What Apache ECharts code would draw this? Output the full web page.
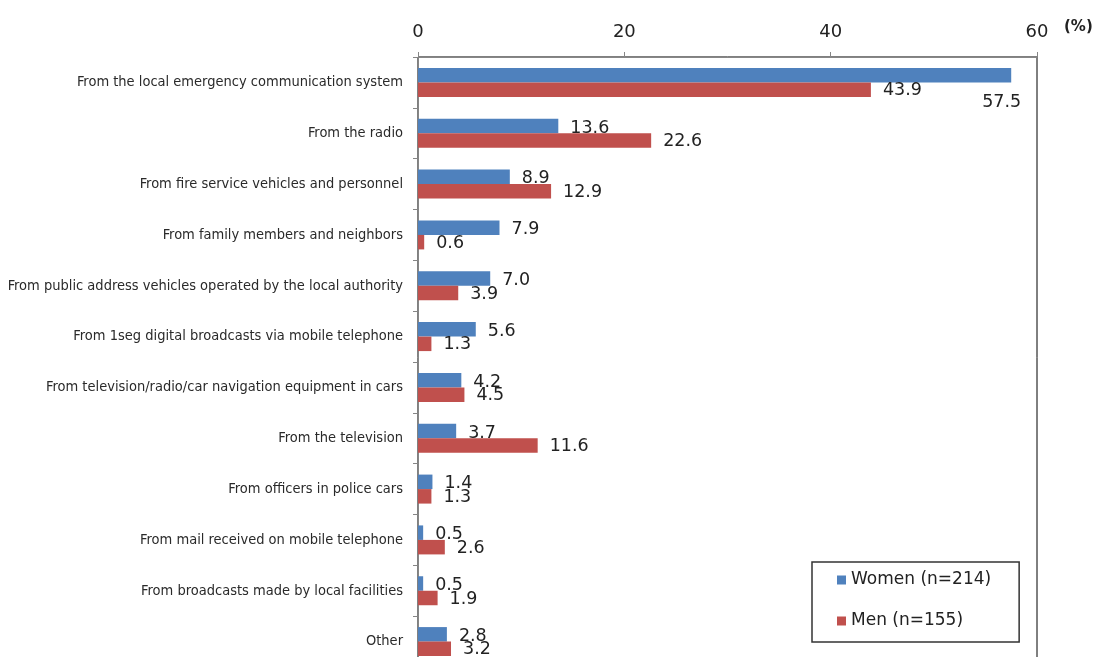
<!DOCTYPE html>
<html>
<head>
<meta charset="utf-8">
<title>Sources of evacuation information</title>
<script src="https://cdn.jsdelivr.net/npm/echarts@6/dist/echarts.min.js"></script>
<style>
  html, body { margin: 0; padding: 0; background: #fff; }
  #chart { width: 1096px; height: 657px; }
</style>
</head>
<body>
<div id="chart"></div>
<script>
// Where people first heard the information, by respondent group (%)
const categories = [
  'From the local emergency communication system',
  'From the radio',
  'From fire service vehicles and personnel',
  'From family members and neighbors',
  'From public address vehicles operated by the local authority',
  'From 1seg digital broadcasts via mobile telephone',
  'From television/radio/car navigation equipment in cars',
  'From the television',
  'From officers in police cars',
  'From mail received on mobile telephone',
  'From broadcasts made by local facilities',
  'Other'
];
const women = [57.5, 13.6, 8.9, 7.9, 7.0, 5.6, 4.2, 3.7, 1.4, 0.5, 0.5, 2.8];
const men = [43.9, 22.6, 12.9, 0.6, 3.9, 1.3, 4.5, 11.6, 1.3, 2.6, 1.9, 3.2];
const seriesNames = ['Women (n=214)', 'Men (n=155)'];
const axisTicks = { min: 0, max: 60, interval: 20 };
const unitLabel = '(%)';

const BLUE = '#4F81BD';
const RED = '#C0504D';
const numFont = '"DejaVu Sans", "Liberation Sans", Arial, sans-serif';
const catFont = '"DejaVu Sans Condensed", "Liberation Sans", sans-serif';

const valueLabel = {
  show: true,
  position: 'right',
  distance: 12,
  fontFamily: numFont,
  fontSize: 17.5,
  color: '#222',
  formatter: p => p.value.toFixed(1)
};

// the longest women's bar carries its label beneath the bar end
const womenData = women.map((v, i) => i === 0
  ? { value: v, label: { offset: [-41, 27] } }
  : { value: v, label: { offset: [0, 2] } });
const menData = men.map(v => ({ value: v, label: { offset: [0, 1] } }));

const chart = echarts.init(document.getElementById('chart'), null, { renderer: 'canvas' });
chart.setOption({
  backgroundColor: '#fff',
  animation: false,
  grid: {
    left: 418, top: 57, right: 59, bottom: -10,
    outerBoundsMode: 'none',
    show: true,
    borderColor: '#000',
    borderWidth: 1,
    backgroundColor: 'transparent'
  },
  legend: {
    orient: 'vertical',
    left: 812, top: 562,
    padding: [8, 28, 11, 25],
    itemGap: 21,
    itemWidth: 9, itemHeight: 9,
    icon: 'rect',
    borderColor: '#333',
    borderWidth: 1.5,
    backgroundColor: '#fff',
    textStyle: { fontFamily: numFont, fontSize: 17, color: '#222', lineHeight: 20 },
    data: seriesNames
  },
  xAxis: {
    type: 'value',
    position: 'top',
    min: axisTicks.min, max: axisTicks.max, interval: axisTicks.interval,
    axisLine: { show: true, lineStyle: { color: '#868686', width: 1 } },
    axisTick: { show: true, inside: false, length: 5, lineStyle: { color: '#868686' } },
    axisLabel: { margin: 16, fontFamily: numFont, fontSize: 18, color: '#222' },
    splitLine: { show: false }
  },
  yAxis: {
    type: 'category',
    inverse: true,
    data: categories,
    axisLine: { show: true, lineStyle: { color: '#868686', width: 1 } },
    axisTick: { show: true, inside: false, length: 5, alignWithLabel: false, lineStyle: { color: '#868686' } },
    axisLabel: { margin: 15, fontFamily: catFont, fontSize: 14.5, color: '#2a2a2a', interval: 0 },
    splitLine: { show: false }
  },
  graphic: [{
    type: 'text',
    left: 1064, top: 20,
    style: { text: unitLabel, font: 'bold 15px ' + numFont, fill: '#222' }
  }],
  series: [
    {
      name: seriesNames[0],
      type: 'bar',
      data: womenData,
      barWidth: 14.5,
      barGap: '0%',
      itemStyle: { color: BLUE },
      label: valueLabel
    },
    {
      name: seriesNames[1],
      type: 'bar',
      data: menData,
      barWidth: 14.5,
      barGap: '0%',
      itemStyle: { color: RED },
      label: valueLabel
    }
  ]
});
</script>
</body>
</html>
